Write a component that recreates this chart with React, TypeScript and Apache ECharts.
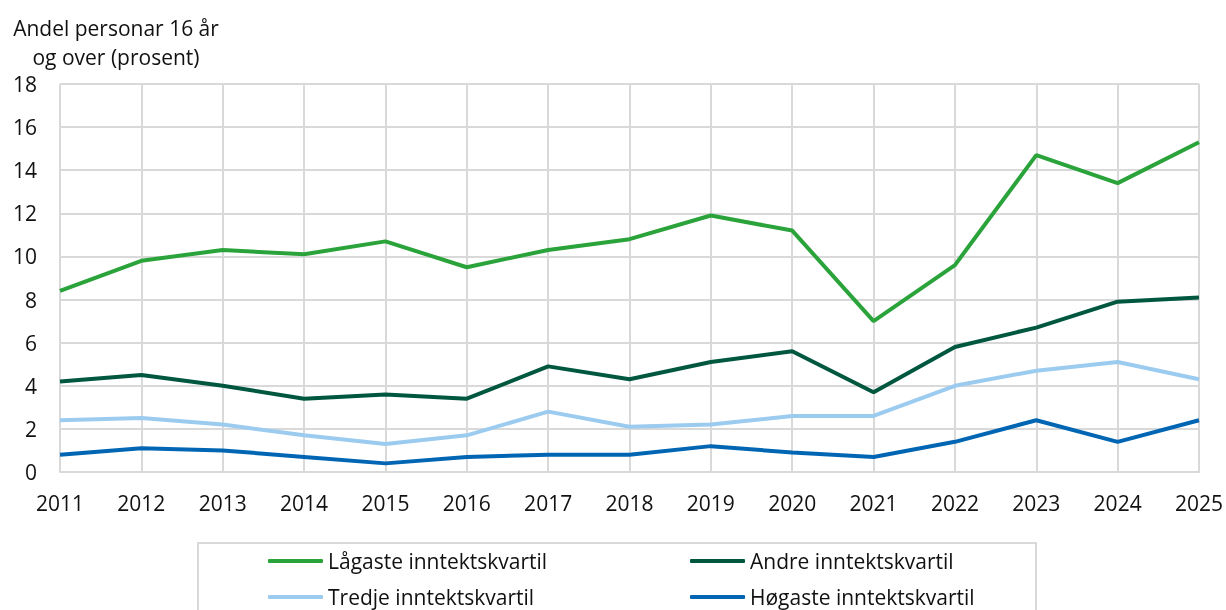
import React, { useEffect, useRef } from "react";
import * as echarts from "echarts";

const years = ["2011","2012","2013","2014","2015","2016","2017","2018","2019","2020","2021","2022","2023","2024","2025"];
const lagaste = [8.4, 9.8, 10.3, 10.1, 10.7, 9.5, 10.3, 10.8, 11.9, 11.2, 7.0, 9.6, 14.7, 13.4, 15.3];
const andre = [4.2, 4.5, 4.0, 3.4, 3.6, 3.4, 4.9, 4.3, 5.1, 5.6, 3.7, 5.8, 6.7, 7.9, 8.1];
const tredje = [2.4, 2.5, 2.2, 1.7, 1.3, 1.7, 2.8, 2.1, 2.2, 2.6, 2.6, 4.0, 4.7, 5.1, 4.3];
const hogaste = [0.8, 1.1, 1.0, 0.7, 0.4, 0.7, 0.8, 0.8, 1.2, 0.9, 0.7, 1.4, 2.4, 1.4, 2.4];
const seriesNames = ["Lågaste inntektskvartil", "Andre inntektskvartil", "Tredje inntektskvartil", "Høgaste inntektskvartil"];
const colors = ["#2ba33b", "#00573f", "#9ccbf0", "#0066b4"];
const yTitle = "Andel personar 16 år\nog over (prosent)";

const FONT = "'Open Sans', sans-serif";
const GRID = "#d9d9d9";
const FS = 21;

export default function App() {
  const ref = useRef<HTMLDivElement>(null);
  useEffect(() => {
    if (!ref.current) return;
    const chart = echarts.init(ref.current, null, { renderer: "svg" });
    const data = [lagaste, andre, tredje, hogaste];
    const legendPos = [
      { left: 268, top: 546 },
      { left: 690, top: 546 },
      { left: 268, top: 582 },
      { left: 690, top: 582 },
    ];
    chart.setOption({
      animation: false,
      grid: { left: 60, right: 26, top: 84, bottom: 138 },
      legend: seriesNames.map((name, i) => ({
        ...legendPos[i],
        data: [name],
        itemWidth: 55,
        itemHeight: 4,
        itemGap: 0,
        icon: "roundRect",
        padding: 0,
        textStyle: { fontFamily: FONT, fontSize: FS, color: "#111", lineHeight: 30, padding: [0, 0, 0, 0] },
      })),
      xAxis: {
        type: "category",
        data: years,
        boundaryGap: false,
        axisLine: { show: true, lineStyle: { color: GRID, width: 2 } },
        axisTick: { show: false },
        splitLine: { show: true, lineStyle: { color: GRID, width: 2 } },
        axisLabel: { fontFamily: FONT, fontSize: FS, color: "#111", margin: 20 },
      },
      yAxis: {
        type: "value",
        min: 0,
        max: 18,
        interval: 2,
        axisLine: { show: false },
        axisTick: { show: false },
        splitLine: { show: true, lineStyle: { color: GRID, width: 2 } },
        axisLabel: { fontFamily: FONT, fontSize: FS, color: "#111", margin: 23 },
      },
      graphic: [
        {
          type: "text",
          x: 116,
          y: 13,
          style: {
            text: yTitle,
            font: `${FS}px ${FONT}`,
            fill: "#111",
            align: "center",
            verticalAlign: "top",
            lineHeight: 29,
          },
        },
        {
          type: "rect",
          shape: { x: 198, y: 543, width: 838, height: 90 },
          style: { fill: "none", stroke: GRID, lineWidth: 2 },
          silent: true,
        },
      ],
      series: seriesNames.map((name, i) => ({
        name,
        type: "line",
        data: data[i],
        symbol: "none",
        lineStyle: { color: colors[i], width: 4 },
        itemStyle: { color: colors[i] },
        z: 10 - i,
      })),
    });
    return () => chart.dispose();
  }, []);
  return <div ref={ref} style={{ position: "fixed", left: 0, top: 0, width: 1226, height: 610 }} />;
}
